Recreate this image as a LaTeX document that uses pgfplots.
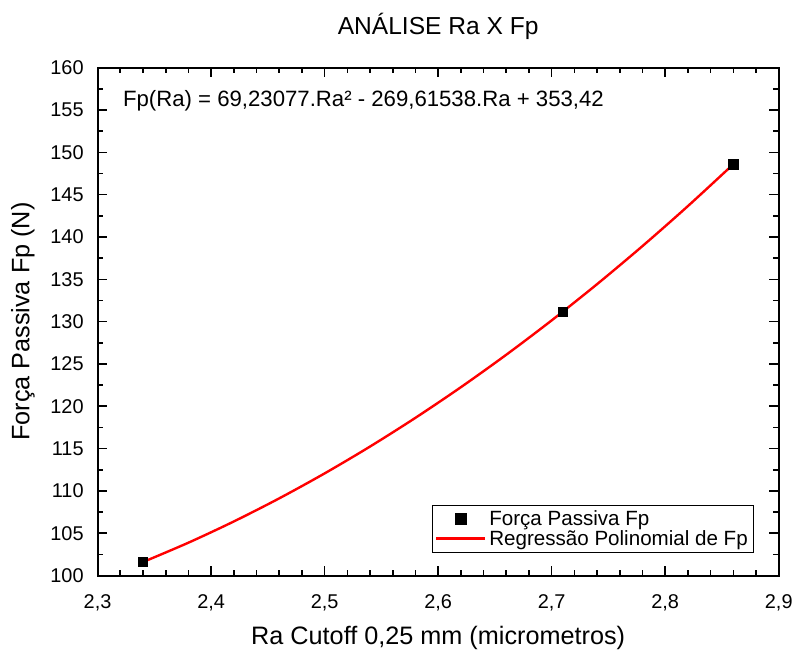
\documentclass[border=0pt]{standalone}
\usepackage{pgfplots}
\pgfplotsset{compat=1.18}
\usepackage{fontspec}
\setmainfont{Liberation Sans}
\begin{document}
\begin{tikzpicture}
\begin{axis}[
  scale only axis,
  width=513pt, height=382.5pt,
  xmin=2.3, xmax=2.9, ymin=100, ymax=160,
  xtick={2.3,2.4,...,2.9}, ytick={100,105,...,160},
  minor x tick num=4, minor y tick num=1,
  tick align=inside,
  major tick length=7pt, minor tick length=4pt,
  every tick/.style={black, line width=1.2pt},
  axis line style={line width=1.5pt},
  /pgf/number format/use comma,
  /pgf/number format/assume math mode=true,
  xticklabel style={/pgf/number format/fixed, /pgf/number format/precision=1, /pgf/number format/fixed zerofill, font=\fontsize{15}{17}\selectfont, yshift=-11pt},
  yticklabel style={font=\fontsize{15}{17}\selectfont, xshift=-7pt},
  xlabel={Ra Cutoff 0,25 mm (micrometros)},
  ylabel={Força Passiva Fp (N)},
  xlabel style={font=\fontsize{19}{21}\selectfont, yshift=-4pt},
  ylabel style={font=\fontsize{19}{21}\selectfont, yshift=5pt},
  title={ANÁLISE Ra X Fp},
  title style={font=\fontsize{18.5}{20}\selectfont, yshift=12pt},
  legend style={at={(0.963,0.045)}, anchor=south east, draw=black, line width=0.6pt,
    font=\fontsize{15.5}{17}\selectfont, row sep=-2pt, inner sep=2pt, legend cell align=left},
  legend image post style={line width=1.8pt},
  legend image code/.code={\draw[#1] (0cm,0cm) -- (1.3cm,0cm);},
]
\addplot[only marks, mark=square*, mark size=3.5pt, black,
  legend image code/.code={\draw[mark repeat=2,mark phase=2] plot coordinates {(0cm,0cm)(0.65cm,0cm)(1.3cm,0cm)};}]
  coordinates {(2.34,101.6) (2.71,131.2) (2.86,148.6)};
\addlegendentry{Força Passiva Fp}
\addplot[red, line width=1.8pt, smooth] coordinates {
 (2.34,101.600) (2.38,103.886) (2.42,106.394) (2.46,109.123) (2.50,112.074)
 (2.54,115.246) (2.58,118.640) (2.62,122.255) (2.66,126.092) (2.70,130.151)
 (2.74,134.431) (2.78,138.932) (2.82,143.655) (2.86,148.600)};
\addlegendentry{Regressão Polinomial de Fp}
\node[anchor=west, font=\fontsize{16.7}{18}\selectfont, inner sep=0pt] at (rel axis cs:0.037,0.935)
  {Fp(Ra) = 69,23077.Ra² - 269,61538.Ra + 353,42};
\end{axis}
\path (current axis.south west) ++(-73.5pt,-57.75pt) coordinate (bbA);
\path (current axis.north east) ++(11.25pt,51pt) coordinate (bbB);
\useasboundingbox (bbA) rectangle (bbB);
\end{tikzpicture}
\end{document}
